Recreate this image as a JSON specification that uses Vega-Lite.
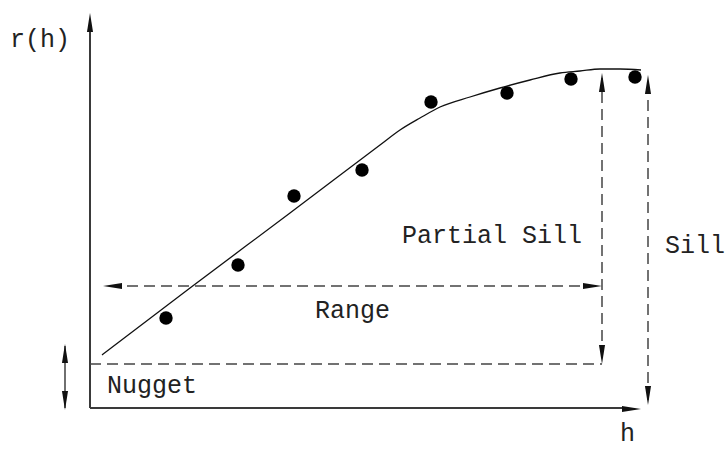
{
  "$schema": "https://vega.github.io/schema/vega-lite/v6.json",
  "width": 725,
  "height": 450,
  "padding": 0,
  "autosize": "none",
  "background": "white",
  "config": {"view": {"stroke": null}},
  "datasets": {
    "segments": [
      {"name": "yaxis", "kind": "solid", "h": 0, "r": 0, "h2": 0, "r2": 382},
      {"name": "xaxis", "kind": "solid", "h": 0, "r": 0, "h2": 538, "r2": 0},
      {"name": "nuggetArrow", "kind": "thin", "h": -25, "r": 62, "h2": -25, "r2": 0},
      {"name": "nuggetLine", "kind": "dashed", "h": 0, "r": 44, "h2": 512, "r2": 44},
      {"name": "range", "kind": "dashed", "h": 20, "r": 122, "h2": 505, "r2": 122},
      {"name": "partialSill", "kind": "dashed", "h": 512, "r": 50, "h2": 512, "r2": 330},
      {"name": "sill", "kind": "dashed", "h": 558, "r": 8, "h2": 558, "r2": 328}
    ],
    "heads": [
      {"h": 0, "r": 395, "dir": "up"},
      {"h": 551, "r": -1, "dir": "right"},
      {"h": -25, "r": 64, "dir": "up"},
      {"h": -25, "r": -2, "dir": "down"},
      {"h": 13, "r": 122, "dir": "left"},
      {"h": 512, "r": 122, "dir": "right"},
      {"h": 512, "r": 335, "dir": "up"},
      {"h": 512, "r": 44, "dir": "down"},
      {"h": 558, "r": 333, "dir": "up"},
      {"h": 558, "r": 3, "dir": "down"}
    ],
    "curve": [
      {"h": 12, "r": 53},
      {"h": 100, "r": 120},
      {"h": 200, "r": 195},
      {"h": 290, "r": 263},
      {"h": 310, "r": 278},
      {"h": 330, "r": 290},
      {"h": 350, "r": 301},
      {"h": 380, "r": 311},
      {"h": 410, "r": 320},
      {"h": 440, "r": 328},
      {"h": 470, "r": 335},
      {"h": 490, "r": 337},
      {"h": 510, "r": 339},
      {"h": 530, "r": 339},
      {"h": 551, "r": 338}
    ],
    "points": [
      {"h": 76, "r": 90},
      {"h": 148, "r": 143},
      {"h": 204, "r": 212},
      {"h": 272, "r": 238},
      {"h": 341, "r": 306},
      {"h": 417, "r": 315},
      {"h": 481, "r": 329},
      {"h": 545, "r": 331}
    ],
    "labels": [
      {"h": -80, "r": 361, "label": "r(h)"},
      {"h": 530, "r": -33, "label": "h"},
      {"h": 17, "r": 15, "label": "Nugget"},
      {"h": 225, "r": 90, "label": "Range"},
      {"h": 312, "r": 165, "label": "Partial Sill"},
      {"h": 575, "r": 155, "label": "Sill"}
    ]
  },
  "encoding": {
    "x": {"field": "h", "type": "quantitative", "scale": {"domain": [-90, 635], "nice": false, "zero": false}, "axis": null},
    "y": {"field": "r", "type": "quantitative", "scale": {"domain": [-42, 408], "nice": false, "zero": false}, "axis": null}
  },
  "layer": [
    {
      "data": {"name": "segments"},
      "transform": [{"filter": "datum.kind === 'solid'"}],
      "mark": {"type": "rule", "stroke": "#3a3a3a", "strokeWidth": 2},
      "encoding": {"x2": {"field": "h2"}, "y2": {"field": "r2"}}
    },
    {
      "data": {"name": "segments"},
      "transform": [{"filter": "datum.kind === 'thin'"}],
      "mark": {"type": "rule", "stroke": "#222", "strokeWidth": 1.3},
      "encoding": {"x2": {"field": "h2"}, "y2": {"field": "r2"}}
    },
    {
      "data": {"name": "segments"},
      "transform": [{"filter": "datum.kind === 'dashed'"}],
      "mark": {"type": "rule", "stroke": "#444", "strokeWidth": 1.5, "strokeDash": [11, 6]},
      "encoding": {"x2": {"field": "h2"}, "y2": {"field": "r2"}}
    },
    {
      "data": {"name": "curve"},
      "mark": {"type": "line", "stroke": "#111", "strokeWidth": 1.3, "interpolate": "monotone"},
      "encoding": {}
    },
    {
      "data": {"name": "points"},
      "mark": {"type": "point", "filled": true, "color": "#000", "opacity": 1, "size": 180, "shape": "circle"},
      "encoding": {}
    },
    {
      "data": {"name": "heads"},
      "transform": [{"filter": "datum.dir === 'up'"}],
      "mark": {"type": "point", "filled": true, "color": "#111", "opacity": 1, "size": 361, "angle": 0, "shape": "M0,0L0.32,2L-0.32,2Z"},
      "encoding": {}
    },
    {
      "data": {"name": "heads"},
      "transform": [{"filter": "datum.dir === 'right'"}],
      "mark": {"type": "point", "filled": true, "color": "#111", "opacity": 1, "size": 361, "angle": 90, "shape": "M0,0L0.32,2L-0.32,2Z"},
      "encoding": {}
    },
    {
      "data": {"name": "heads"},
      "transform": [{"filter": "datum.dir === 'down'"}],
      "mark": {"type": "point", "filled": true, "color": "#111", "opacity": 1, "size": 361, "angle": 180, "shape": "M0,0L0.32,2L-0.32,2Z"},
      "encoding": {}
    },
    {
      "data": {"name": "heads"},
      "transform": [{"filter": "datum.dir === 'left'"}],
      "mark": {"type": "point", "filled": true, "color": "#111", "opacity": 1, "size": 361, "angle": 270, "shape": "M0,0L0.32,2L-0.32,2Z"},
      "encoding": {}
    },
    {
      "data": {"name": "labels"},
      "mark": {"type": "text", "align": "left", "baseline": "alphabetic", "font": "Liberation Mono", "fontSize": 25, "fill": "#222"},
      "encoding": {"text": {"field": "label"}}
    }
  ]
}
